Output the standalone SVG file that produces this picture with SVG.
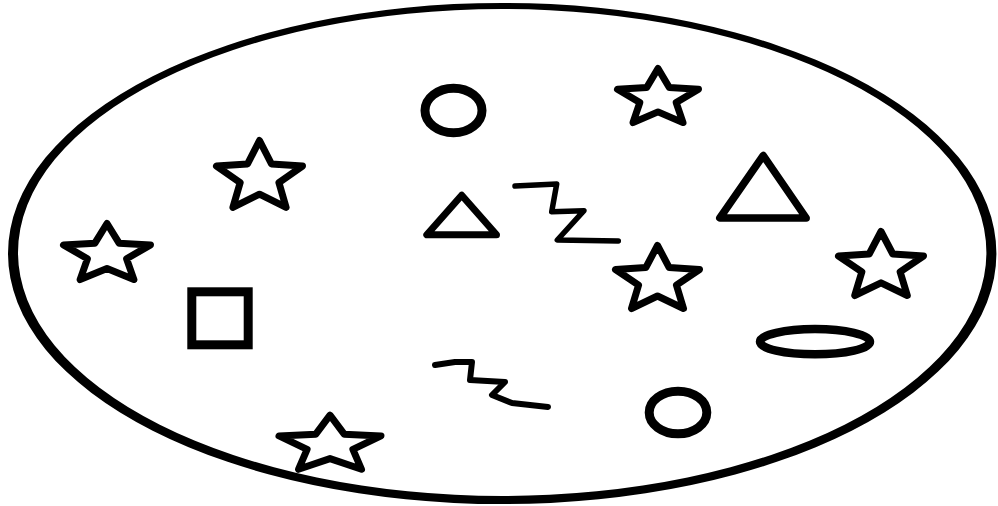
<svg xmlns="http://www.w3.org/2000/svg" width="998" height="506" viewBox="0 0 998 506">
<style>
.s{fill:none;stroke:#000;stroke-linejoin:round;stroke-linecap:round}
.st{fill:#fff;stroke:#000;stroke-width:7;stroke-linejoin:round}
</style>
<rect width="998" height="506" fill="#fff"/>
<g id="boundary"><path fill="#000" fill-rule="evenodd" d="M8,253.5 a494.2,250.5 0 1 0 988.4,0 a494.2,250.5 0 1 0 -988.4,0 Z M18,252.5 a484.2,243.5 0 1 0 968.4,0 a484.2,243.5 0 1 0 -968.4,0 Z"/></g>
<g id="stars" class="st">
<path d="M658,68.5 L669.3,87.5 L698.5,89.2 L676.2,102.6 L683,122.6 L658,111.9 L633,122.6 L639.8,102.6 L617.5,89.2 L646.7,87.5 Z"/>
<path d="M259.5,140.5 L271.5,164 L302.5,166.1 L278.9,182.6 L286.1,207.4 L259.5,194.2 L232.9,207.4 L240.2,182.6 L216.5,166.1 L247.5,164 Z"/>
<path d="M107,223.5 L119.1,243.2 L150.5,244.9 L126.6,258.8 L133.9,279.6 L107,268.5 L80.1,279.6 L87.4,258.8 L63.5,244.9 L94.9,243.2 Z"/>
<path d="M657.5,245.5 L669.2,267.6 L699.5,269.5 L676.4,285.1 L683.5,308.5 L657.5,296 L631.5,308.5 L638.6,285.1 L615.5,269.5 L645.8,267.6 Z"/>
<path d="M881,231.5 L892.8,254 L923.5,256 L900.1,271.8 L907.3,295.5 L881,282.8 L854.7,295.5 L861.9,271.8 L838.5,256 L869.2,254 Z"/>
<path d="M330,415.2 L344.2,434.2 L381,435.9 L352.9,449.3 L361.5,469.3 L330,458.6 L298.5,469.3 L307.1,449.3 L279,435.9 L315.8,434.2 Z"/>
</g>
<g id="circles" class="s" style="stroke-width:9">
<ellipse cx="453.5" cy="110.5" rx="28.5" ry="22.3"/>
<ellipse cx="678" cy="412.5" rx="28.8" ry="21.3"/>
<ellipse cx="815" cy="341.7" rx="55" ry="12.6" style="stroke-width:8.5"/>
</g>
<g id="triangles" class="s" style="stroke-width:7">
<path d="M461.7,195.2 L426.8,234.8 L496.5,234.8 Z"/>
<path d="M763.3,155.5 L719.8,218 L806.2,218 Z" style="stroke-width:7.5"/>
</g>
<g id="rectangle"><rect class="s" x="191.8" y="291.8" width="56.4" height="53" style="stroke-width:9;stroke-linejoin:miter"/></g>
<g id="squiggles" class="s" style="stroke-width:5.5">
<path d="M515,186 L556.7,184 L551.7,211.7 L584,210.7 L557.3,240 L618.3,241"/>
<path d="M435,365 L455,362 L472,362 L470,380 L505,382 L492,395 L512,403 L530,405 L548,407" style="stroke-width:6"/>
</g>
</svg>
